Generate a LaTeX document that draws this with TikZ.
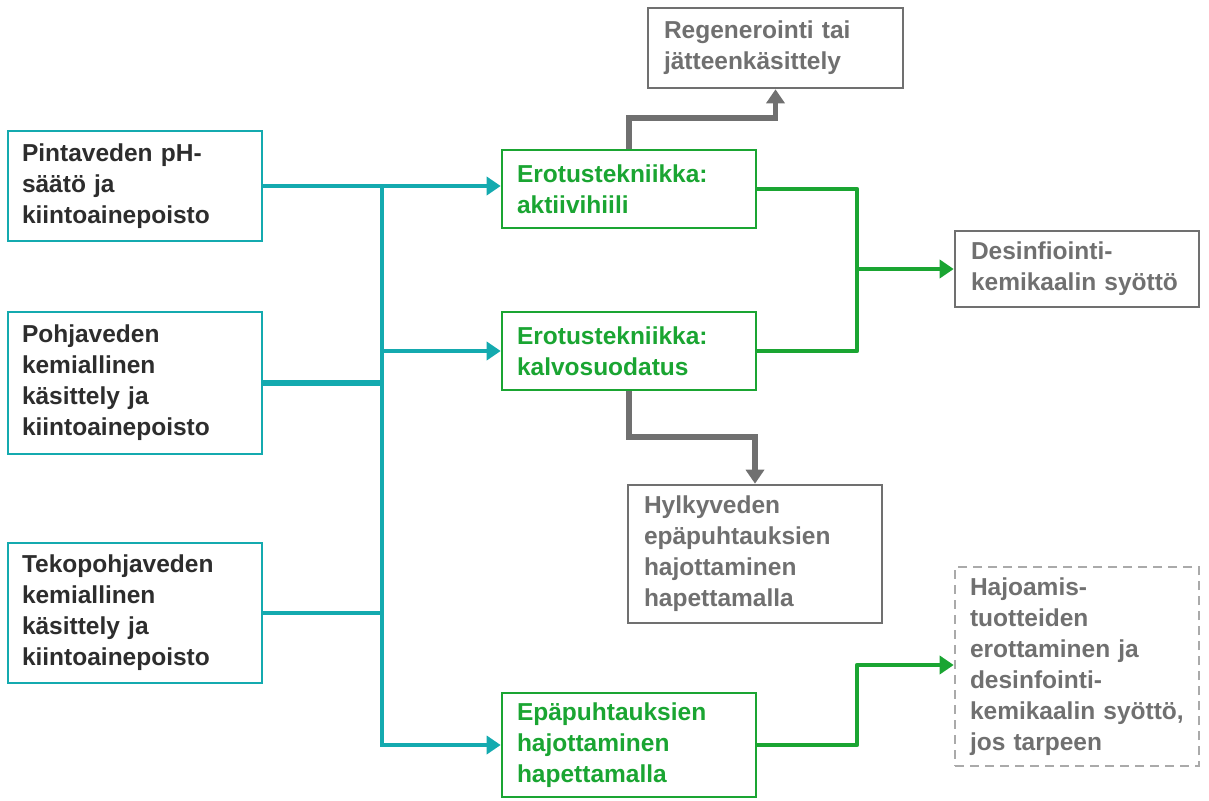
\documentclass[tikz,border=0pt]{standalone}
\usepackage{fontspec}
\setmainfont{Liberation Sans}
\usetikzlibrary{arrows.meta}

\definecolor{teal1}{RGB}{20,170,175}
\definecolor{green1}{RGB}{26,165,50}
\definecolor{gray1}{RGB}{112,112,112}
\definecolor{gray2}{RGB}{170,170,170}
\definecolor{dark1}{RGB}{45,45,45}

\tikzset{
  box/.style={draw, line width=2.6pt, fill=white, align=left, inner xsep=14pt,
    font=\fontsize{24.5}{31}\selectfont\bfseries, anchor=center},
  srcbox/.style={box, draw=teal1, text=dark1, minimum width=254pt, text width=226pt},
  midbox/.style={box, draw=green1, text=green1, minimum width=254pt, text width=224pt, inner xsep=15pt},
  outbox/.style={box, draw=gray1, text=gray1, inner xsep=16pt},
  optbox/.style={box, draw=gray2, dashed, dash pattern=on 9pt off 6pt, text=gray1, inner xsep=15pt},
  tealline/.style={draw=teal1, line width=4.5pt},
  greenline/.style={draw=green1, line width=4.5pt},
  grayline/.style={draw=gray1, line width=5.5pt},
  tip/.style={-{Triangle[length=14pt,width=18pt]}}
}

\begin{document}
\begin{tikzpicture}[x=1pt,y=-1pt]
	\useasboundingbox (0,0) rectangle (1209,800);
	% inputs
	\node[srcbox, minimum height=110pt] (pinta) at (135,186) {Pintaveden pH-\\säätö ja\\kiintoainepoisto};
	\node[srcbox, minimum height=142pt] (pohja) at (135,383) {Pohjaveden\\kemiallinen\\käsittely ja\\kiintoainepoisto};
	\node[srcbox, minimum height=140pt] (teko) at (135,613) {Tekopohjaveden\\kemiallinen\\käsittely ja\\kiintoainepoisto};
	% treatment
	\node[midbox, minimum height=78pt] (aktiivi) at (629,189) {Erotustekniikka:\\aktiivihiili};
	\node[midbox, minimum height=78pt] (kalvo) at (629,351) {Erotustekniikka:\\kalvosuodatus};
	\node[midbox, minimum height=104pt] (hapetus) at (629,745) {Epäpuhtauksien\\hajottaminen\\hapettamalla};
	% outputs
	\node[outbox, minimum width=255pt, minimum height=80pt, text width=223pt] (regen) at (775.5,48) {Regenerointi tai\\jätteenkäsittely};
	\node[outbox, minimum width=244pt, minimum height=76pt, text width=212pt] (desinf) at (1077,269) {Desinfiointi-\\kemikaalin syöttö};
	\node[outbox, minimum width=254pt, minimum height=138pt, text width=222pt] (hylky) at (755,554) {Hylkyveden\\epäpuhtauksien\\hajottaminen\\hapettamalla};
	\node[optbox, minimum width=244pt, minimum height=199pt, text width=214pt] (hajoamis) at (1077,666.5) {Hajoamis-\\tuotteiden\\erottaminen ja\\desinfointi-\\\mbox{kemikaalin syöttö,}\\jos tarpeen};

	\coordinate (bus1) at (382,186);
	\coordinate (bus2) at (382,745);
	\coordinate (gsplit) at (857,269);

	% teal distribution
	\draw[tealline, tip] (pinta.east |- 0,186) -- (aktiivi.west |- 0,186);
	\draw[tealline, line cap=rect] (bus1) -- (bus2);
	\draw[tealline, tip] (bus2) -- (hapetus.west);
	\draw[tealline, line width=6pt] (pohja.east) -- (bus1 |- pohja.east);
	\draw[tealline] (teko.east) -- (bus1 |- teko.east);
	\draw[tealline, tip] (bus1 |- kalvo.west) -- (kalvo.west);

	% gray side streams
	\draw[grayline, tip] (aktiivi.north) |- (775.5,118) -- (regen.south);
	\draw[grayline, tip] (kalvo.south) |- (755,437) -- (hylky.north);

	% green outputs
	\draw[greenline, line join=round] (aktiivi.east) -| (gsplit) |- (kalvo.east);
	\draw[greenline, tip] (gsplit) -- (desinf.west);
	\draw[greenline, tip, line join=round] (hapetus.east) -| (857,665) -- (hajoamis.west |- 0,665);
\end{tikzpicture}
\end{document}
